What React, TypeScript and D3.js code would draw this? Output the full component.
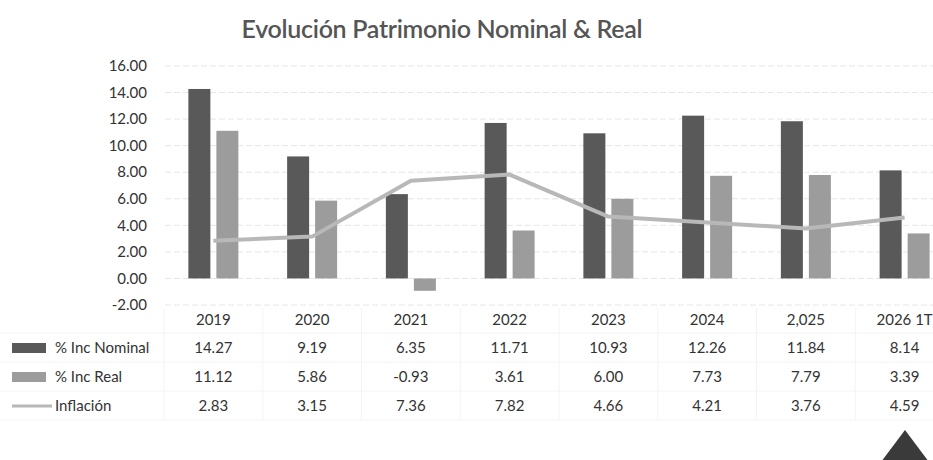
import React from "react";
import * as d3 from "d3";

const categories = ["2019", "2020", "2021", "2022", "2023", "2024", "2,025", "2026 1T"];
const nominal = [14.27, 9.19, 6.35, 11.71, 10.93, 12.26, 11.84, 8.14];
const real = [11.12, 5.86, -0.93, 3.61, 6.0, 7.73, 7.79, 3.39];
const inflacion = [2.83, 3.15, 7.36, 7.82, 4.66, 4.21, 3.76, 4.59];
const yTicks = [16, 14, 12, 10, 8, 6, 4, 2, 0, -2];
const seriesNames = ["% Inc Nominal", "% Inc Real", "Inflación"];

const W = 933;
const H = 460;
const FONT = "Lato, 'Open Sans', sans-serif";

export default function App() {
  const x = d3.scaleBand<string>().domain(categories).range([164, 954]).paddingInner(0).paddingOuter(0);
  const y = d3.scaleLinear().domain([-2, 16]).range([305, 66]);
  const bw = 22;
  const gap = 6;
  const cx = (c: string) => (x(c) as number) + x.bandwidth() / 2;
  const line = d3
    .line<number>()
    .x((_, i) => cx(categories[i]))
    .y((d) => y(d));
  const rowY = [348, 377, 406];
  const yearY = 320;
  const rows = [nominal, real, inflacion];

  return (
    <svg width={W} height={H} style={{ position: "absolute", left: 0, top: 0, background: "#fff" }}>
      <rect x={0} y={0} width={W} height={H} fill="#ffffff" />
      <text x={442} y={38} textAnchor="middle" fontFamily={FONT} fontSize={25} fill="#555" fontWeight={600} letterSpacing={-0.3}>
        Evolución Patrimonio Nominal &amp; Real
      </text>
      {yTicks.map((t) => (
        <g key={t}>
          <line x1={165} x2={W} y1={y(t)} y2={y(t)} stroke="#e6e6e6" strokeWidth={1} strokeDasharray="6 3" />
          <text x={147} y={y(t)} dy="0.35em" textAnchor="end" fontFamily={FONT} fontSize={15} fill="#333">
            {t.toFixed(2)}
          </text>
        </g>
      ))}
      {categories.map((c, i) => {
        const c0 = cx(c);
        const n = nominal[i];
        const r = real[i];
        return (
          <g key={c}>
            <rect x={c0 - gap / 2 - bw} width={bw} y={y(Math.max(0, n))} height={Math.abs(y(n) - y(0))} fill="#595959" />
            <rect x={c0 + gap / 2} width={bw} y={y(Math.max(0, r))} height={Math.abs(y(r) - y(0))} fill="#9c9c9c" />
          </g>
        );
      })}
      <path d={line(inflacion) || ""} fill="none" stroke="#b8b8b8" strokeWidth={4} strokeLinejoin="round" />
      {/* data table */}
      {[333, 362, 391, 420].map((ly) => (
        <line key={ly} x1={0} x2={W} y1={ly} y2={ly} stroke="#f4f4f4" strokeWidth={1} />
      ))}
      {categories.map((c) => (
        <line key={"v" + c} x1={x(c) as number} x2={x(c) as number} y1={308} y2={420} stroke="#f4f4f4" strokeWidth={1} />
      ))}
      {categories.map((c) => (
        <text key={"yr" + c} x={cx(c)} y={yearY} dy="0.35em" textAnchor="middle" fontFamily={FONT} fontSize={15} fill="#333">
          {c}
        </text>
      ))}
      {rows.map((vals, ri) => (
        <g key={"row" + ri}>
          {ri === 0 && <rect x={12} y={rowY[ri] - 5} width={34} height={10} fill="#595959" />}
          {ri === 1 && <rect x={12} y={rowY[ri] - 5} width={34} height={10} fill="#9c9c9c" />}
          {ri === 2 && <line x1={12} x2={52} y1={rowY[ri]} y2={rowY[ri]} stroke="#b8b8b8" strokeWidth={3} />}
          <text x={55} y={rowY[ri]} dy="0.35em" fontFamily={FONT} fontSize={15} fill="#333">
            {seriesNames[ri]}
          </text>
          {vals.map((v, i) => (
            <text key={i} x={cx(categories[i])} y={rowY[ri]} dy="0.35em" textAnchor="middle" fontFamily={FONT} fontSize={15} fill="#333">
              {v.toFixed(2)}
            </text>
          ))}
        </g>
      ))}
      <polygon points="905,430 878,466 932,466" fill="#3a3a3a" />
    </svg>
  );
}
